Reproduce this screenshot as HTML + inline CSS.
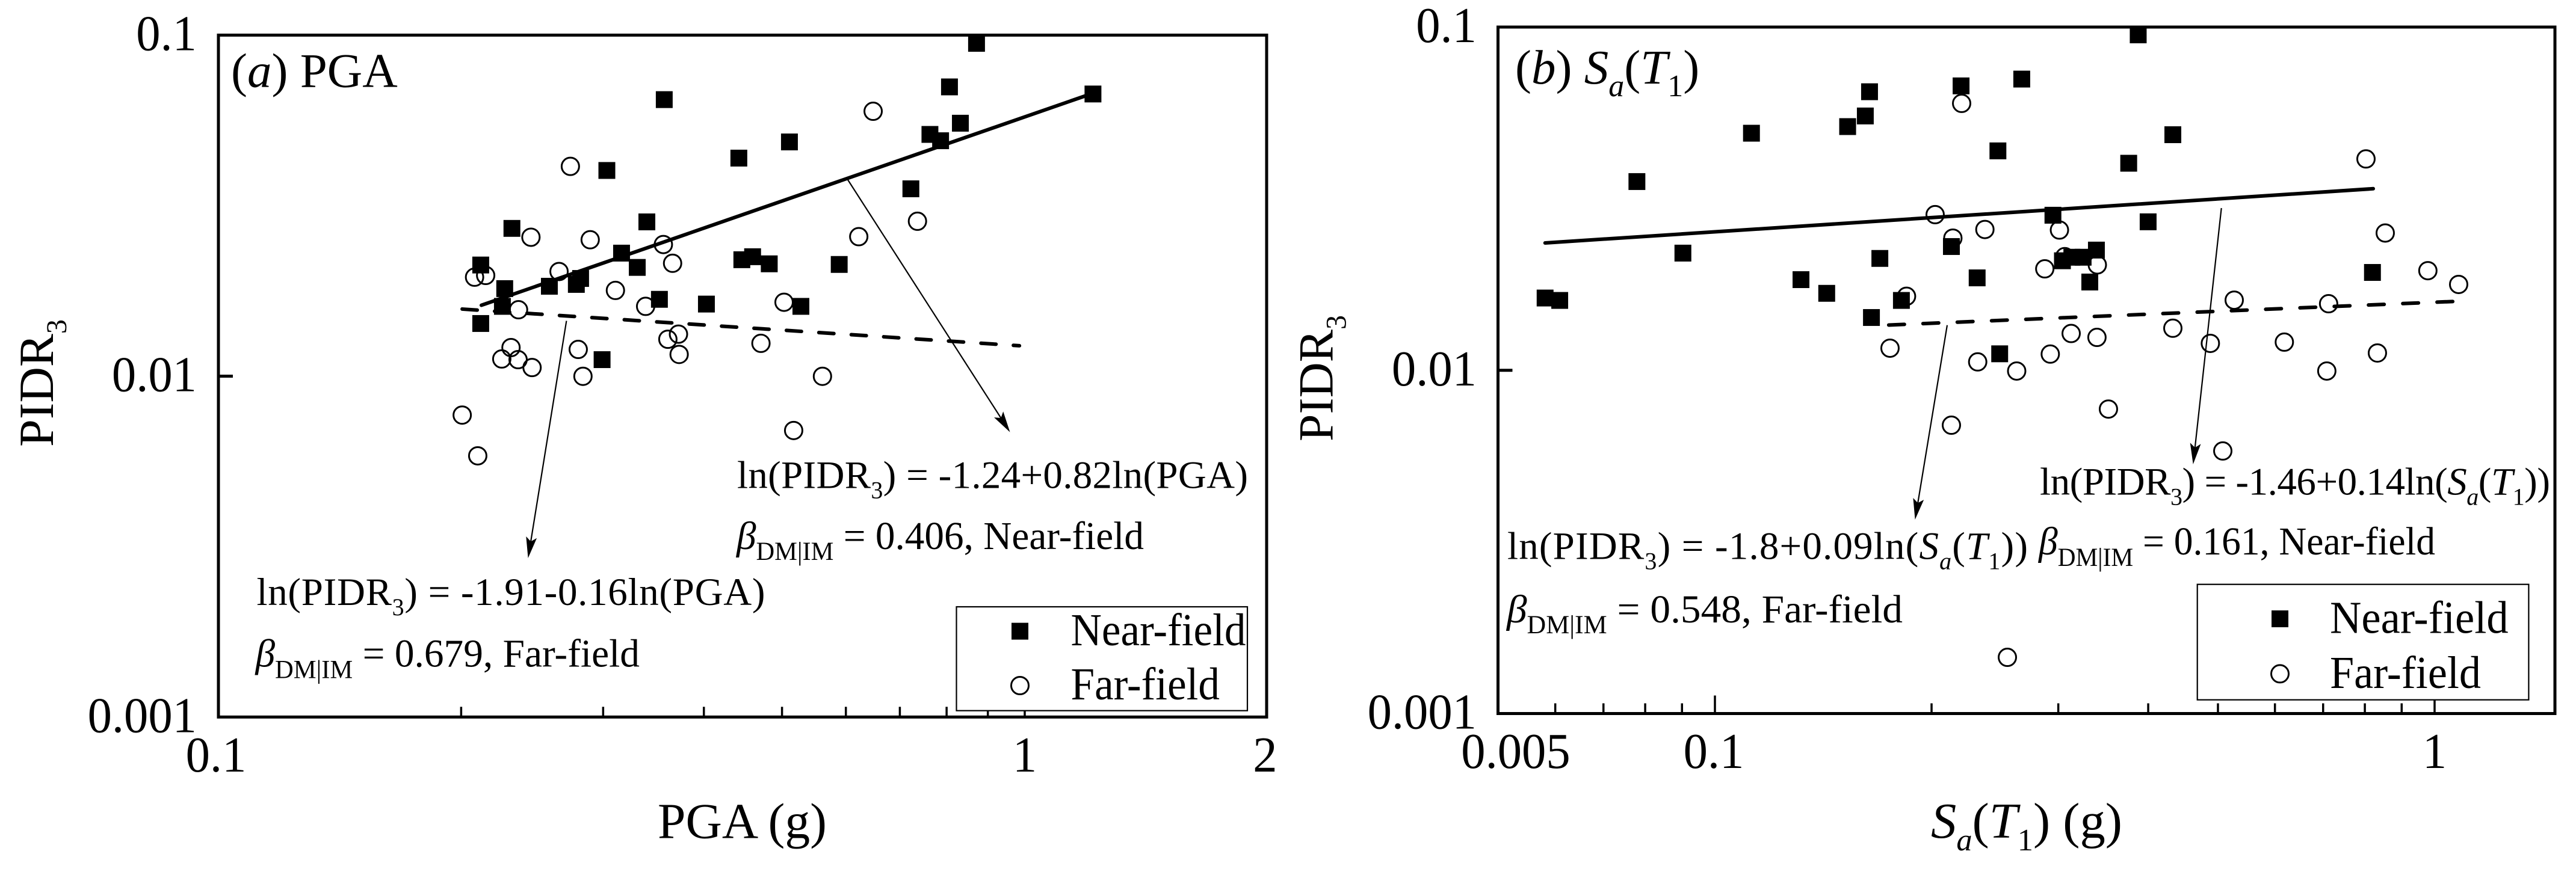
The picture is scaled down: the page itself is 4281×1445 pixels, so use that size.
<!DOCTYPE html>
<html lang="en">
<head>
<meta charset="utf-8">
<title>PIDR3 versus PGA and Sa(T1)</title>
<style>
html,body{margin:0;padding:0;background:#fff;}
svg{display:block;}
text{font-family:"Liberation Serif","Times New Roman",serif;fill:#000;}
.it{font-style:italic;}
</style>
</head>
<body>
<svg id="chart" xmlns="http://www.w3.org/2000/svg" width="4281" height="1445" viewBox="0 0 4281 1445">
  <rect x="0" y="0" width="4281" height="1445" fill="#fff"/>
  <g id="panelA"></g>
  <g id="panelB"></g>

  <!-- Panel (a) annotations -->
  <text x="384" y="144.5" font-size="81">(<tspan class="it">a</tspan>) PGA</text>
  <text transform="translate(88,743) rotate(-90)" font-size="82" textLength="212" lengthAdjust="spacingAndGlyphs">PIDR<tspan font-size="48" dy="22">3</tspan></text>
  <text x="1093" y="1393.5" font-size="84" textLength="281" lengthAdjust="spacingAndGlyphs">PGA (g)</text>

  <line x1="1409" y1="299" x2="1663.4" y2="695" stroke="#000" stroke-width="2.2"/>
  <polygon points="1678.5,718.6 1652,694.1 1663.4,695 1667.2,684.3" fill="#000"/>
  <line x1="941.4" y1="533.5" x2="882.1" y2="900.4" stroke="#000" stroke-width="2.2"/>
  <polygon points="877.6,928 874.3,892 882.1,900.4 892.1,894.8" fill="#000"/>

  <text x="1225" y="811.5" font-size="65" textLength="849">ln(PIDR<tspan font-size="40" dy="17">3</tspan><tspan dy="-17">) = -1.24+0.82ln(PGA)</tspan></text>
  <text x="1224" y="913" font-size="66" textLength="677" lengthAdjust="spacingAndGlyphs"><tspan class="it">β</tspan><tspan font-size="43" dy="18">DM|IM</tspan><tspan dy="-18"> = 0.406, Near-field</tspan></text>
  <text x="426.5" y="1006" font-size="65" textLength="845">ln(PIDR<tspan font-size="40" dy="17">3</tspan><tspan dy="-17">) = -1.91-0.16ln(PGA)</tspan></text>
  <text x="424.5" y="1108.5" font-size="66" textLength="638.5" lengthAdjust="spacingAndGlyphs"><tspan class="it">β</tspan><tspan font-size="43" dy="19">DM|IM</tspan><tspan dy="-19"> = 0.679, Far-field</tspan></text>

  <!-- Panel (b) annotations -->
  <text x="2518" y="139" font-size="81">(<tspan class="it">b</tspan>) <tspan class="it">S</tspan><tspan class="it" font-size="52" dy="21">a</tspan><tspan dy="-21">(</tspan><tspan class="it">T</tspan><tspan font-size="52" dy="21">1</tspan><tspan dy="-21">)</tspan></text>
  <text transform="translate(2214.5,734) rotate(-90)" font-size="82" textLength="210" lengthAdjust="spacingAndGlyphs">PIDR<tspan font-size="48" dy="22">3</tspan></text>
  <text x="3209" y="1393" font-size="84" textLength="318" lengthAdjust="spacingAndGlyphs"><tspan class="it">S</tspan><tspan class="it" font-size="52" dy="21">a</tspan><tspan dy="-21">(</tspan><tspan class="it">T</tspan><tspan font-size="52" dy="21">1</tspan><tspan dy="-21">) (g)</tspan></text>

  <line x1="3236" y1="540.7" x2="3187.2" y2="836.4" stroke="#000" stroke-width="2.2"/>
  <polygon points="3182.6,864 3179.4,828 3187.2,836.4 3197.2,831" fill="#000"/>
  <line x1="3691.7" y1="346" x2="3647.8" y2="744.2" stroke="#000" stroke-width="2.2"/>
  <polygon points="3644.7,772 3639.7,736.2 3647.8,744.2 3657.5,738.2" fill="#000"/>

  <text x="2505" y="929.5" font-size="65" textLength="865">ln(PIDR<tspan font-size="40" dy="17">3</tspan><tspan dy="-17">) = -1.8+0.09ln(</tspan><tspan class="it">S</tspan><tspan class="it" font-size="40" dy="17">a</tspan><tspan dy="-17">(</tspan><tspan class="it">T</tspan><tspan font-size="40" dy="17">1</tspan><tspan dy="-17">))</tspan></text>
  <text x="2504" y="1035" font-size="66" textLength="658" lengthAdjust="spacingAndGlyphs"><tspan class="it">β</tspan><tspan font-size="43" dy="18">DM|IM</tspan><tspan dy="-18"> = 0.548, Far-field</tspan></text>
  <text x="3390" y="822.5" font-size="65" textLength="848">ln(PIDR<tspan font-size="40" dy="17">3</tspan><tspan dy="-17">) = -1.46+0.14ln(</tspan><tspan class="it">S</tspan><tspan class="it" font-size="40" dy="17">a</tspan><tspan dy="-17">(</tspan><tspan class="it">T</tspan><tspan font-size="40" dy="17">1</tspan><tspan dy="-17">))</tspan></text>
  <text x="3388" y="922" font-size="66" textLength="659" lengthAdjust="spacingAndGlyphs"><tspan class="it">β</tspan><tspan font-size="43" dy="19">DM|IM</tspan><tspan dy="-19"> = 0.161, Near-field</tspan></text>

  <!-- Legends -->
  <g>
    <rect x="1589.5" y="1009" width="483.5" height="172.7" fill="#fff" stroke="#000" stroke-width="2.2"/>
    <rect x="1681" y="1035.6" width="28" height="28" fill="#000"/>
    <circle cx="1695" cy="1140" r="14.5" fill="none" stroke="#000" stroke-width="3"/>
    <text x="1779.5" y="1073" font-size="76" textLength="291" lengthAdjust="spacingAndGlyphs">Near-field</text>
    <text x="1779.5" y="1163" font-size="76" textLength="247.5" lengthAdjust="spacingAndGlyphs">Far-field</text>
  </g>
  <g>
    <rect x="3651.7" y="971.7" width="550.7" height="192" fill="#fff" stroke="#000" stroke-width="2.2"/>
    <rect x="3775" y="1015" width="28" height="28" fill="#000"/>
    <circle cx="3789" cy="1120.4" r="14.5" fill="none" stroke="#000" stroke-width="3"/>
    <text x="3872" y="1052.5" font-size="76" textLength="296.7" lengthAdjust="spacingAndGlyphs">Near-field</text>
    <text x="3872" y="1144" font-size="76" textLength="251" lengthAdjust="spacingAndGlyphs">Far-field</text>
  </g>
</svg>

<script>
// ---------- Panel (a): PGA data ----------
const pgaNearX = [0.3572,0.3032,0.2312,0.3399,0.3162,0.3307,0.2115,0.2265,0.2573,0.2779,0.2813,0.2250,0.2115,0.2991,0.3523,0.8714,0.8066,1.2151,0.8321,0.7628,0.7864,0.5107,0.4420,0.7224,0.4458,0.4597,0.4821,0.5887,0.4029,0.5277];
const pgaNearY = [0.0647,0.0401,0.02712,0.02834,0.02295,0.02084,0.02118,0.01806,0.01835,0.01858,0.01934,0.01602,0.01427,0.01118,0.0168,0.0946,0.0705,0.0672,0.05517,0.05115,0.04901,0.04862,0.04359,0.03543,0.02195,0.0224,0.02135,0.02126,0.01627,0.01602];
const pgaFarX = [0.2732,0.2441,0.2891,0.2078,0.2145,0.2645,0.3107,0.2356,0.2794,0.2306,0.2246,0.2353,0.2449,0.2832,0.2006,0.2097,0.6486,0.7361,0.6225,0.3563,0.3658,0.3387,0.5029,0.3720,0.3609,0.3727,0.4708,0.5612,0.5169];
const pgaFarY = [0.04122,0.02555,0.02512,0.01951,0.01974,0.02027,0.01784,0.01566,0.01198,0.01213,0.01123,0.01118,0.0106,0.00999,0.00769,0.00584,0.0598,0.02846,0.02565,0.02432,0.02143,0.01602,0.01647,0.01328,0.01283,0.01158,0.01248,0.00999,0.00693];
const pgaNearFitX = [0.2119,1.193];
const pgaNearFitY = [0.01614,0.06654];
const pgaFarFitX = [0.2006,0.9849];
const pgaFarFitY = [0.01573,0.01228];
const pgaXMinorTicks = [0.2,0.3,0.4,0.5,0.6,0.7,0.8,0.9,1];
const pgaXTickValues = [0.1,1,2];
const pgaXTickLabels = ['0.1','1','2'];
const pgaYTickValues = [0.1,0.01,0.001];
const pgaYTickLabels = ['0.1','0.01','0.001'];
const pgaYMajorTicks = [0.01];

// ---------- Panel (b): Sa(T1) data ----------
const saNearX = [0.05808,0.06086,0.07791,0.09026,0.1124,0.1317,0.143,0.1529,0.1618,0.164,0.1695,0.1816,0.165,0.2198,0.2131,0.2669,0.2473,0.3874,0.4328,0.3758,0.2949,0.3999,0.3389,0.304,0.3133,0.3248,0.2314,0.3318,0.2487,0.8197];
const saNearY = [0.01624,0.01598,0.03547,0.02195,0.04906,0.01837,0.01676,0.05129,0.05508,0.0648,0.02118,0.01598,0.01425,0.0674,0.02294,0.07054,0.04358,0.0949,0.04857,0.04011,0.0283,0.02708,0.0224,0.02085,0.02135,0.02135,0.01859,0.01808,0.01117,0.01928];
const saFarX = [0.2023,0.1751,0.1846,0.2131,0.2202,0.2141,0.2372,0.3011,0.3063,0.2873,0.3399,0.8029,0.8539,0.9787,1.08,0.5267,0.7124,0.3126,0.3395,0.4328,0.488,0.6183,0.8328,0.2318,0.2626,0.2924,0.7083,0.3522,0.5078,0.2549];
const saFarY = [0.02841,0.0116,0.01643,0.00692,0.05993,0.02427,0.02572,0.02562,0.02144,0.01975,0.02028,0.04129,0.02512,0.01951,0.01779,0.01601,0.01563,0.0128,0.01247,0.01326,0.01198,0.01208,0.01123,0.01058,0.00995,0.01115,0.00995,0.00771,0.00582,0.001458];
const saNearFitX = [0.05808,0.8217];
const saNearFitY = [0.0235,0.03381];
const saFarFitX = [0.1744,1.0862];
const saFarFitY = [0.01355,0.0159];
const saXMinorTicks = [0.06,0.07,0.08,0.09,0.2,0.3,0.4,0.5,0.6,0.7,0.8,0.9];
const saXMajorTicks = [0.1,1];
const saXTickValues = [0.05,0.1,1];
const saXTickLabels = ['0.005','0.1','1'];
const saYTickValues = [0.1,0.01,0.001];
const saYTickLabels = ['0.1','0.01','0.001'];
const saYMajorTicks = [0.01];

const NS = 'http://www.w3.org/2000/svg';

// Axis functions
function pgaXAxis(v){ return 363 + 1340 * Math.log10(v / 0.1); }
function pgaYAxis(v){ return 58.4 + 567.1 * (-1 - Math.log10(v)); }
function saXAxis(v){ return 2850 + 1196 * Math.log10(v / 0.1); }
function saYAxis(v){ return 45 + 570.75 * (-1 - Math.log10(v)); }

function makeEl(parent, tag, props){
  const el = document.createElementNS(NS, tag);
  for (const k in props) el.setAttribute(k, props[k]);
  parent.appendChild(el);
  return el;
}

function drawFrame(g, prefix, box){
  const el = makeEl(g, 'rect', {x:box.left, y:box.top, width:box.right-box.left, height:box.bottom-box.top, fill:'none', stroke:'#000', 'stroke-width':5});
  
  
}

function drawXTicks(g, prefix, values, xAxis, box, len){
  values.forEach(function(v){
    const el = makeEl(g, 'line', {x1:xAxis(v), x2:xAxis(v), y1:box.bottom, y2:box.bottom-len, stroke:'#000', 'stroke-width':3.5});
    
    
  });
}

function drawYTicks(g, prefix, values, yAxis, box, len){
  values.forEach(function(v){
    const el = makeEl(g, 'line', {x1:box.left, x2:box.left+len, y1:yAxis(v), y2:yAxis(v), stroke:'#000', 'stroke-width':5});
    
    
  });
}

function drawXLabels(g, prefix, values, labels, xAxis, baseline, nudges){
  values.forEach(function(v, i){
    const el = makeEl(g, 'text', {transform:'translate(' + (xAxis(v)+nudges[i]) + ',' + baseline + ') scale(0.96,1)', 'font-size':84, 'text-anchor':'middle'});
    el.textContent = labels[i];
    
    
  });
}

function drawYLabels(g, prefix, values, labels, yAxis, rightEdge, offset){
  values.forEach(function(v, i){
    const el = makeEl(g, 'text', {transform:'translate(' + rightEdge + ',' + (yAxis(v)+offset) + ') scale(0.96,1)', 'font-size':84, 'text-anchor':'end'});
    el.textContent = labels[i];
    
    
  });
}

function drawFit(g, name, xs, ys, xAxis, yAxis, dash){
  const pts = xs.map(function(x, i){ return xAxis(x) + ',' + yAxis(ys[i]); }).join(' ');
  const props = {points:pts, fill:'none', stroke:'#000', 'stroke-width':6, 'stroke-linecap':'round'};
  if (dash) props['stroke-dasharray'] = dash;
  const el = makeEl(g, 'polyline', props);
  
  
}

function drawCircles(g, name, xs, ys, xAxis, yAxis){
  xs.forEach(function(x, i){
    const el = makeEl(g, 'circle', {cx:xAxis(x), cy:yAxis(ys[i]), r:14.5, fill:'none', stroke:'#000', 'stroke-width':3});
    
    
  });
}

function drawSquares(g, name, xs, ys, xAxis, yAxis){
  xs.forEach(function(x, i){
    const el = makeEl(g, 'rect', {x:xAxis(x)-14, y:yAxis(ys[i])-14, width:28, height:28, fill:'#000'});
    
    
  });
}

// Panel (a)
(function(){
  const g = document.getElementById('panelA');
  const box = {left:363, top:58.4, right:2105, bottom:1192.3};
  drawXTicks(g, 'panel-a', pgaXMinorTicks, pgaXAxis, box, 17);
  drawYTicks(g, 'panel-a', pgaYMajorTicks, pgaYAxis, box, 24);
  drawFrame(g, 'panel-a', box);
  drawXLabels(g, 'panel-a', pgaXTickValues, pgaXTickLabels, pgaXAxis, 1283, [-4,0,-4]);
  drawYLabels(g, 'panel-a', pgaYTickValues, pgaYTickLabels, pgaYAxis, 327, 25);
  drawFit(g, 'panel-a-far-field-fit-line', pgaFarFitX, pgaFarFitY, pgaXAxis, pgaYAxis, '25 29');
  drawFit(g, 'panel-a-near-field-fit-line', pgaNearFitX, pgaNearFitY, pgaXAxis, pgaYAxis, null);
  drawCircles(g, 'panel-a-far-field-point', pgaFarX, pgaFarY, pgaXAxis, pgaYAxis);
  drawSquares(g, 'panel-a-near-field-point', pgaNearX, pgaNearY, pgaXAxis, pgaYAxis);
})();

// Panel (b)
(function(){
  const g = document.getElementById('panelB');
  const box = {left:2489.5, top:45, right:4246, bottom:1186.5};
  drawXTicks(g, 'panel-b', saXMinorTicks, saXAxis, box, 17);
  drawXTicks(g, 'panel-b', saXMajorTicks, saXAxis, box, 30);
  drawYTicks(g, 'panel-b', saYMajorTicks, saYAxis, box, 24);
  drawFrame(g, 'panel-b', box);
  drawXLabels(g, 'panel-b', saXTickValues, saXTickLabels, saXAxis, 1277, [29,-2,0]);
  drawYLabels(g, 'panel-b', saYTickValues, saYTickLabels, saYAxis, 2454, 25);
  drawFit(g, 'panel-b-far-field-fit-line', saFarFitX, saFarFitY, saXAxis, saYAxis, '26 31');
  drawFit(g, 'panel-b-near-field-fit-line', saNearFitX, saNearFitY, saXAxis, saYAxis, null);
  drawCircles(g, 'panel-b-far-field-point', saFarX, saFarY, saXAxis, saYAxis);
  drawSquares(g, 'panel-b-near-field-point', saNearX, saNearY, saXAxis, saYAxis);
})();
</script>
</body>
</html>
